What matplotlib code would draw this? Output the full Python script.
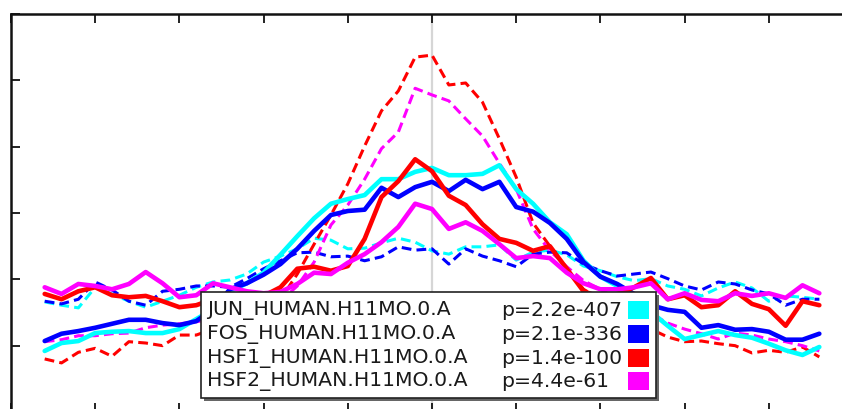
import numpy as np
import matplotlib
matplotlib.use("Agg")
import matplotlib.pyplot as plt
from matplotlib.patches import Rectangle

# Position relative to the motif centre (bp), sampled every 10 bp
positions = np.arange(-230, 231, 10)

# Site probability profiles: solid = motif, dashed = background/secondary profile
jun_main = [0.92, 1.04, 1.07, 1.19, 1.21, 1.22, 1.19, 1.19, 1.25, 1.40, 1.55, 1.82, 1.94, 2.10,
            2.37, 2.65, 2.92, 3.14, 3.21, 3.27, 3.51, 3.51, 3.62, 3.68, 3.57, 3.57, 3.59, 3.72,
            3.36, 3.14, 2.86, 2.68, 2.28, 2.04, 1.90, 1.70, 1.51, 1.30, 1.10, 1.16, 1.22, 1.16,
            1.12, 1.03, 0.93, 0.86, 0.98]
fos_main = [1.07, 1.18, 1.22, 1.27, 1.33, 1.39, 1.39, 1.34, 1.31, 1.37, 1.55, 1.85, 1.94, 2.07,
            2.23, 2.46, 2.73, 2.97, 3.03, 3.05, 3.38, 3.24, 3.39, 3.47, 3.33, 3.50, 3.36, 3.47,
            3.09, 3.02, 2.85, 2.61, 2.26, 2.04, 1.93, 1.78, 1.61, 1.54, 1.51, 1.27, 1.31, 1.24,
            1.25, 1.21, 1.09, 1.09, 1.18]
hsf1_main = [1.78, 1.70, 1.82, 1.88, 1.76, 1.73, 1.75, 1.67, 1.58, 1.61, 1.70, 1.73, 1.70, 1.75,
             1.88, 2.16, 2.19, 2.13, 2.20, 2.61, 3.24, 3.48, 3.81, 3.63, 3.26, 3.12, 2.83, 2.61,
             2.55, 2.43, 2.50, 2.16, 1.82, 1.73, 1.78, 1.88, 2.02, 1.70, 1.76, 1.58, 1.61, 1.82,
             1.63, 1.55, 1.30, 1.67, 1.61]
hsf2_main = [1.88, 1.78, 1.93, 1.90, 1.85, 1.93, 2.11, 1.94, 1.73, 1.76, 1.94, 1.88, 1.82, 1.79,
             1.81, 1.93, 2.10, 2.08, 2.25, 2.38, 2.56, 2.79, 3.14, 3.06, 2.76, 2.86, 2.73, 2.53,
             2.32, 2.35, 2.32, 2.10, 1.94, 1.85, 1.85, 1.88, 1.94, 1.70, 1.79, 1.69, 1.67, 1.79,
             1.75, 1.79, 1.72, 1.91, 1.79]

jun_alt = [1.66, 1.61, 1.57, 1.88, 1.78, 1.67, 1.58, 1.67, 1.76, 1.88, 1.96, 1.99, 2.08, 2.26,
           2.35, 2.46, 2.62, 2.59, 2.46, 2.47, 2.55, 2.62, 2.56, 2.43, 2.38, 2.49, 2.49, 2.52,
           2.29, 2.41, 2.44, 2.37, 2.20, 2.13, 2.04, 1.98, 2.01, 1.90, 1.85, 1.75, 1.87, 1.96,
           1.87, 1.67, 1.75, 1.73, 1.70]
fos_alt = [1.67, 1.63, 1.70, 1.96, 1.84, 1.67, 1.61, 1.82, 1.85, 1.90, 1.90, 1.88, 2.01, 2.16,
           2.28, 2.40, 2.41, 2.34, 2.35, 2.28, 2.34, 2.49, 2.44, 2.46, 2.23, 2.46, 2.35, 2.28,
           2.19, 2.38, 2.41, 2.40, 2.23, 2.13, 2.05, 2.08, 2.11, 2.01, 1.90, 1.84, 1.96, 1.93,
           1.84, 1.78, 1.61, 1.70, 1.70]
hsf1_alt = [0.80, 0.74, 0.90, 0.96, 0.84, 1.06, 1.04, 1.00, 1.16, 1.16, 1.25, 1.33, 1.43, 1.55,
            1.70, 2.08, 2.53, 2.97, 3.44, 4.01, 4.54, 4.84, 5.35, 5.38, 4.93, 4.96, 4.67, 4.12,
            3.54, 2.85, 2.50, 2.16, 1.85, 1.70, 1.52, 1.37, 1.25, 1.13, 1.06, 1.07, 1.03, 1.00,
            0.89, 0.93, 0.90, 0.98, 0.83]
hsf2_alt = [1.06, 1.09, 1.15, 1.15, 1.18, 1.19, 1.27, 1.31, 1.33, 1.36, 1.40, 1.43, 1.48, 1.55,
            1.67, 1.90, 2.26, 2.82, 3.12, 3.51, 3.97, 4.22, 4.88, 4.78, 4.69, 4.42, 4.16, 3.75,
            3.36, 2.76, 2.43, 2.19, 1.98, 1.85, 1.70, 1.58, 1.48, 1.34, 1.25, 1.18, 1.10, 1.19,
            1.16, 1.10, 1.06, 1.00, 0.92]

motif_names = ["JUN_HUMAN.H11MO.0.A", "FOS_HUMAN.H11MO.0.A",
               "HSF1_HUMAN.H11MO.0.A", "HSF2_HUMAN.H11MO.0.A"]
p_values = ["p=2.2e-407", "p=2.1e-336", "p=1.4e-100", "p=4.4e-61"]
colors = ["#00ffff", "#0000ff", "#ff0000", "#ff00ff"]

W, H = 842, 410
fig = plt.figure(figsize=(W / 100, H / 100), dpi=100)
fig.patch.set_facecolor("white")

# Plot frame: only the left and top edges fall inside the canvas
ax = fig.add_axes([11 / W, -3 / H, 842 / W, 398 / H])
ax.set_xlim(-250, 250)
ax.set_ylim(0, 6)
ax.set_xticks(np.arange(-250, 251, 50))
ax.set_yticks(np.arange(0, 7, 1))
ax.tick_params(direction="in", length=6.5, width=1.3, top=True, bottom=True,
               left=True, right=True, labelleft=False, labelbottom=False,
               color="#111111")
for side in ax.spines.values():
    side.set_linewidth(1.8)
    side.set_color("#111111")

ax.axvline(0, color="#d6d6d6", lw=1.6, zorder=0)

alt_series = [jun_alt, fos_alt, hsf1_alt, hsf2_alt]
main_series = [jun_main, fos_main, hsf1_main, hsf2_main]

for vals, c in zip(alt_series, colors):
    ax.plot(positions, vals, color=c, lw=2.2, dashes=(3.2, 1.7),
            dash_capstyle="butt", solid_joinstyle="round", zorder=2)
for vals, c in zip(main_series, colors):
    ax.plot(positions, vals, color=c, lw=3.3, solid_joinstyle="round",
            solid_capstyle="round", zorder=3)


def fx(px):
    return px / W


def fy(py):
    return 1 - py / H


# Legend box with a drop shadow
bx0, by0, bx1, by1 = 201, 293, 656, 399
fig.add_artist(Rectangle((fx(bx0 + 2.5), fy(by1 + 2.5)), (bx1 - bx0) / W, (by1 - by0) / H,
                         transform=fig.transFigure, facecolor="#666666",
                         edgecolor="none", zorder=10))
fig.add_artist(Rectangle((fx(bx0), fy(by1)), (bx1 - bx0) / W, (by1 - by0) / H,
                         transform=fig.transFigure, facecolor="white",
                         edgecolor="#222222", lw=1.2, zorder=11))

row_y = [311, 335, 359, 382]
for name, pv, c, ry in zip(motif_names, p_values, colors, row_y):
    fig.text(fx(207), fy(ry), name, ha="left", va="center", fontsize=14.7,
             family="DejaVu Sans", color="#1a1a1a", zorder=12)
    fig.text(fx(501), fy(ry), pv, ha="left", va="center", fontsize=14.7,
             family="DejaVu Sans", color="#1a1a1a", zorder=12)
    fig.add_artist(Rectangle((fx(628), fy(ry + 9)), 21 / W, 18 / H,
                             transform=fig.transFigure, facecolor=c,
                             edgecolor="none", zorder=12))

fig.savefig("out.png", dpi=100)
